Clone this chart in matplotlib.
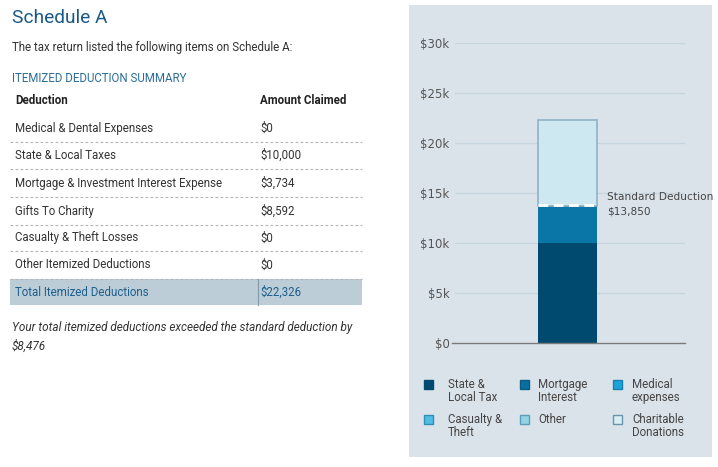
import matplotlib.pyplot as plt
from matplotlib.patches import Rectangle
from matplotlib.lines import Line2D

# table data
deductions = ['Medical & Dental Expenses', 'State & Local Taxes',
              'Mortgage & Investment Interest Expense', 'Gifts To Charity',
              'Casualty & Theft Losses', 'Other Itemized Deductions']
amounts = ['$0', '$10,000', '$3,734', '$8,592', '$0', '$0']
total_label = 'Total Itemized Deductions'
total_amount = '$22,326'

# stacked bar data
stack_labels = ['State & Local Tax', 'Mortgage Interest', 'Charitable Donations']
stack_values = [10000, 3734, 8592]
stack_colors = ['#004a70', '#0a76a8', '#cde8f1']
standard_deduction = 13850
y_ticks = [0, 5000, 10000, 15000, 20000, 25000, 30000]
y_ticklabels = ['$0', '$5k', '$10k', '$15k', '$20k', '$25k', '$30k']

# legend entries
legend_labels = ['State &\nLocal Tax', 'Mortgage\nInterest', 'Medical\nexpenses',
                 'Casualty &\nTheft', 'Other', 'Charitable\nDonations']
legend_colors = ['#004a70', '#0a6e9e', '#1ca3da', '#52bde2', '#93d3e5', '#d8eef5']
legend_edges = ['#004a70', '#0b5c85', '#1780b0', '#2f8fb5', '#5a9fb8', '#6a94a8']

W, H = 718, 467
fx = lambda x: x / W
fy = lambda y: 1 - y / H

TXT = ['Roboto', 'DejaVu Sans']
FS = 8.3

fig = plt.figure(figsize=(7.18, 4.67), dpi=100)
fig.patch.set_facecolor('white')

# ---- left side: table ----
fig.text(fx(12), fy(18), 'Schedule A', family=TXT, fontsize=13.8, color='#1b5a86', va='center')
fig.text(fx(12), fy(47), 'The tax return listed the following items on Schedule A:',
         family=TXT, fontsize=FS, color='#333333', va='center')
fig.text(fx(12), fy(78), 'ITEMIZED DEDUCTION SUMMARY', family=TXT, fontsize=FS,
         color='#2a6d98', va='center')
fig.text(fx(15), fy(101), 'Deduction', family=TXT, fontsize=FS, weight='bold',
         color='#222222', va='center')
fig.text(fx(260), fy(101), 'Amount Claimed', family=TXT, fontsize=FS, weight='bold',
         color='#222222', va='center')

row_y = [128, 155, 183, 211, 238, 265]
for i, (d, a) in enumerate(zip(deductions, amounts)):
    fig.text(fx(15), fy(row_y[i]), d, family=TXT, fontsize=FS, color='#333333', va='center')
    fig.text(fx(260), fy(row_y[i]), a, family=TXT, fontsize=FS, color='#333333', va='center')
    ly = row_y[i] + 13.5
    fig.add_artist(Line2D([fx(10), fx(362)], [fy(ly), fy(ly)], color='#b5b5b5',
                          lw=0.8, ls=(0, (2.5, 2))))

fig.patches.append(Rectangle((fx(10), fy(305)), fx(352), 26 / H, transform=fig.transFigure,
                             facecolor='#bccdd8', edgecolor='none', zorder=-2))
fig.add_artist(Line2D([fx(257.5), fx(257.5)], [fy(279), fy(305)], color='#8299aa', lw=0.8))
fig.text(fx(15), fy(292), total_label, family=TXT, fontsize=FS, color='#1d5f8c', va='center')
fig.text(fx(260), fy(292), total_amount, family=TXT, fontsize=FS, color='#1d5f8c', va='center')

fig.text(fx(12), fy(327), 'Your total itemized deductions exceeded the standard deduction by',
         family=TXT, fontsize=8.5, style='italic', color='#333333', va='center')
fig.text(fx(12), fy(346), '$8,476', family=TXT, fontsize=8.5, style='italic',
         color='#333333', va='center')

# ---- right side: chart panel ----
fig.patches.append(Rectangle((fx(409), fy(457)), fx(303), 452 / H, transform=fig.transFigure,
                             facecolor='#dbe3ea', edgecolor='none', zorder=-2))

ax = fig.add_axes([fx(455), fy(343), fx(230), 300 / H])
ax.set_zorder(2)
ax.patch.set_visible(False)
ax.set_xlim(0, 1)
ax.set_ylim(0, 30000)
for s in ax.spines.values():
    s.set_visible(False)
for t in y_ticks[1:]:
    ax.axhline(t, color='#c6d5df', lw=1, zorder=0)
ax.plot([-0.015, 1], [0, 0], color='#7a7a7a', lw=1, zorder=3, clip_on=False)
ax.set_yticks(y_ticks)
ax.set_yticklabels(y_ticklabels)
ax.tick_params(axis='y', length=0, pad=4, labelsize=8.5, labelcolor='#555555')
ax.set_xticks([])

bar_x = 0.489
bar_w = 0.2565
bottom = 0
for v, c in zip(stack_values, stack_colors):
    edge = '#8fb3c6' if c == '#cde8f1' else 'none'
    ax.bar(bar_x, v, bar_w, bottom=bottom, color=c, edgecolor=edge, lw=1.2, zorder=2)
    bottom += v

ax.plot([bar_x - bar_w / 2, bar_x + bar_w / 2], [standard_deduction, standard_deduction],
        color='white', lw=2, ls=(0, (3.5, 2)), zorder=4)
ax.text(0.663, 14650, 'Standard Deduction', fontsize=7.6, color='#444444',
        va='center', ha='left', clip_on=False)
ax.text(0.663, 13150, '$13,850', fontsize=7.6, color='#444444',
        va='center', ha='left', clip_on=False)

# legend
leg_sq_x = [428, 524, 617]
leg_txt_x = [448, 538, 632]
leg_row_y = [384, 419]
for i, (lab, c, e) in enumerate(zip(legend_labels, legend_colors, legend_edges)):
    r, col = divmod(i, 3)
    cy = leg_row_y[r]
    fig.patches.append(Rectangle((fx(leg_sq_x[col] - 4.5), fy(cy + 4.5)), 9 / W, 9 / H,
                                 transform=fig.transFigure, facecolor=c, edgecolor=e, lw=1))
    fig.text(fx(leg_txt_x[col]), fy(cy - 6), lab, family=TXT, fontsize=FS, color='#444444',
             va='top', linespacing=1.0)

fig.savefig('out.png', dpi=100, facecolor='white')
